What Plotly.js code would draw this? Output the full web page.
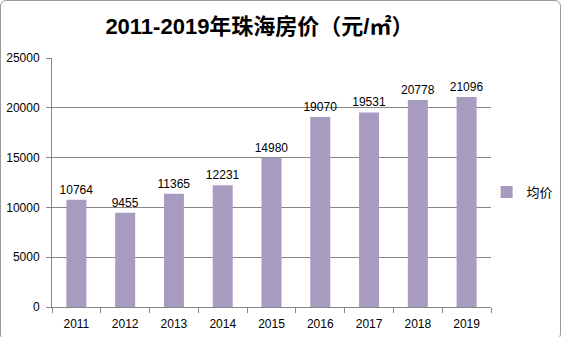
<!DOCTYPE html>
<html><head><meta charset="utf-8">
<script src="https://cdn.plot.ly/plotly-3.0.1.min.js"></script>
<style>
html,body{margin:0;padding:0;background:#fff;}
#frame{position:absolute;left:0;top:0;width:561px;height:340px;border:1px solid #9a9a9a;border-radius:6px;box-sizing:border-box;}
#chart{position:absolute;left:0;top:0;width:564px;height:337px;}
</style></head>
<body>
<div id="chart"></div>
<div id="frame"></div>
<script>
const years = ['2011','2012','2013','2014','2015','2016','2017','2018','2019'];
const avgPrice = [10764, 9455, 11365, 12231, 14980, 19070, 19531, 20778, 21096];
const seriesName = '均价';
const titleText = '2011-2019年珠海房价（元/㎡）';
const yTicks = [0, 5000, 10000, 15000, 20000, 25000];

const FONT = 'Liberation Sans, Noto Sans CJK SC';
const trace = {
  type: 'bar', x: years, y: avgPrice, name: seriesName,
  marker: {color: '#a89bc0'},
  text: avgPrice.map(String), textposition: 'outside', cliponaxis: false,
  constraintext: 'none',
  textfont: {family: FONT, size: 12, color: '#000'},
  showlegend: true
};
const layout = {
  width: 564, height: 337,
  margin: {l: 52, r: 73, t: 58, b: 30, autoexpand: false},
  paper_bgcolor: 'rgba(0,0,0,0)', plot_bgcolor: '#fff',
  bargap: 0.59,
  font: {family: FONT, size: 12, color: '#000'},
  title: {text: titleText, x: 0.46, xanchor: 'center', y: 0.923, yanchor: 'middle',
          font: {family: FONT, size: 22, color: '#000', weight: 'bold'}},
  xaxis: {type: 'category', showline: true, linecolor: '#868686', linewidth: 1,
          ticks: 'outside', ticklen: 5, tickcolor: '#868686', tickson: 'boundaries',
          ticklabelstandoff: 6,
          showgrid: false, zeroline: false, tickfont: {size: 12}},
  yaxis: {range: [0, 25000], tickvals: yTicks, ticktext: yTicks.map(String),
          showline: true, linecolor: '#868686', linewidth: 1,
          ticks: 'outside', ticklen: 5, tickcolor: '#868686', ticklabelstandoff: 4,
          showgrid: true, gridcolor: '#868686', gridwidth: 1, zeroline: false, tickfont: {size: 12}},
  legend: {x: 0.99, xanchor: 'left', y: 0.462, yanchor: 'middle', font: {size: 13},
           itemwidth: 30, bgcolor: 'rgba(0,0,0,0)'}
};
Plotly.newPlot('chart', [trace], layout, {displayModeBar: false, staticPlot: true});
</script>
</body></html>
